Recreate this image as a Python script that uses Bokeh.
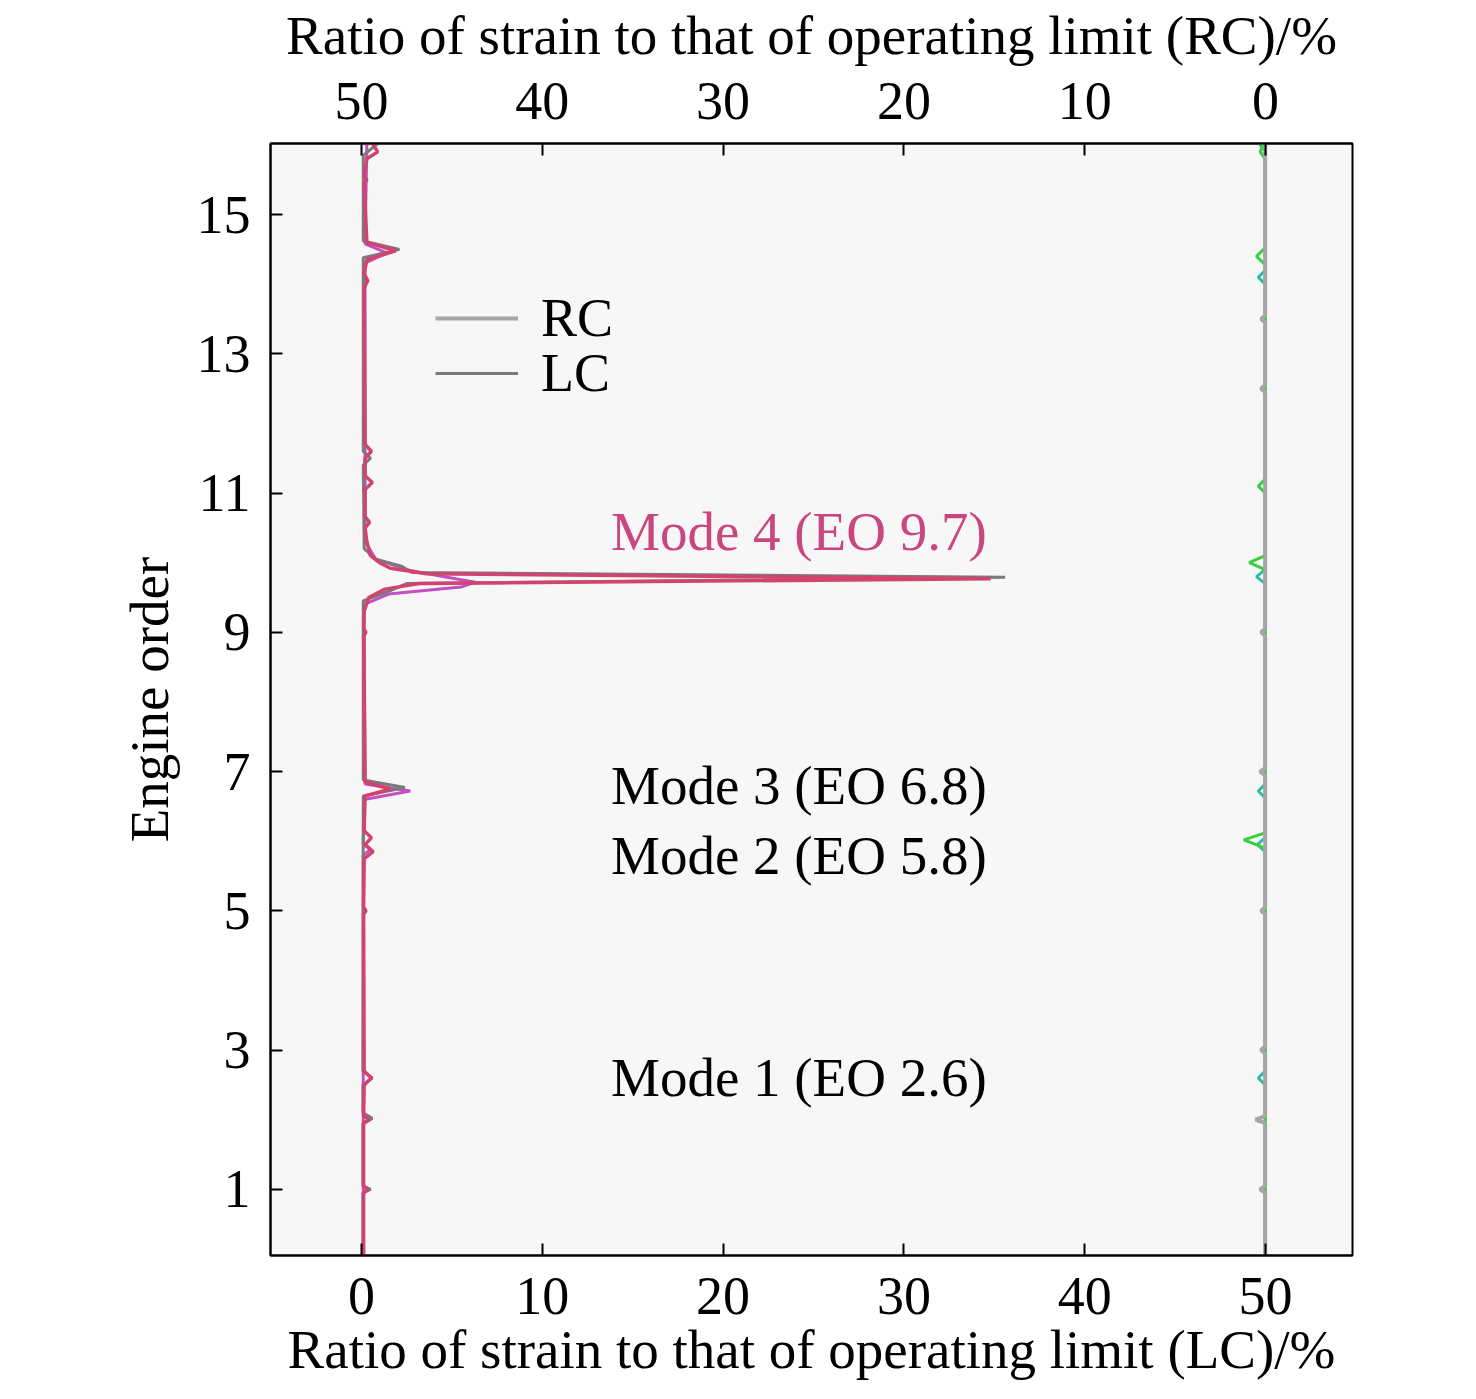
from bokeh.plotting import figure
from bokeh.models import Range1d, LinearAxis, FixedTicker, Legend, LegendItem, Label
from bokeh.embed import file_html
from bokeh.resources import INLINE

FONT = "Liberation Serif"

# ---------------- data ----------------
# LC: ratio of strain (%) vs engine order, left-hand curves
lc_pink_eo = [0.05, 0.95, 1.0, 1.05,
              1.95, 2.0, 2.05,
              2.5, 2.6, 2.7,
              4.95, 5.0, 5.05,
              5.75, 5.85, 5.95, 6.05, 6.15,
              6.65, 6.75, 6.85,
              8.95, 9.0, 9.05,
              9.3, 9.5, 9.62, 9.7, 9.77, 9.84, 9.92, 10.0, 10.1, 10.3,
              10.5, 10.58, 10.66,
              11.05, 11.15, 11.25,
              11.5, 11.6, 11.7,
              13.95, 14.05, 14.15,
              14.35, 14.48, 14.6,
              15.45, 15.5, 15.55,
              15.8, 15.9, 16.02]
lc_pink = [0.12, 0.12, 0.35, 0.12,
           0.12, 0.45, 0.12,
           0.15, 0.55, 0.15,
           0.12, 0.25, 0.12,
           0.15, 0.65, 0.2, 0.55, 0.15,
           0.2, 1.6, 0.2,
           0.12, 0.25, 0.12,
           0.15, 0.4, 1.3, 3.2, 34.8, 3.6, 1.6, 1.0, 0.5, 0.3,
           0.2, 0.45, 0.2,
           0.2, 0.6, 0.2,
           0.2, 0.55, 0.2,
           0.15, 0.35, 0.15,
           0.3, 1.9, 0.3,
           0.15, 0.3, 0.15,
           0.3, 0.9, 0.6]

lc_magenta_eo = [0.05, 5.8, 5.88, 5.96, 6.6, 6.72, 6.82,
                 9.4, 9.55, 9.65, 9.72, 9.8, 9.9, 10.05, 10.3,
                 14.3, 14.45, 14.58, 16.02]
lc_magenta = [0.1, 0.1, 0.5, 0.1, 0.15, 2.7, 0.2,
              0.15, 1.5, 5.5, 6.3, 4.5, 2.5, 0.8, 0.2,
              0.2, 1.4, 0.2, 0.3]

lc_gray_eo = [0.05, 0.95, 1.0, 1.05, 1.95, 2.02, 2.1, 2.5, 2.6, 2.7,
              6.65, 6.77, 6.88,
              9.45, 9.6, 9.7, 9.79, 9.86, 9.95, 10.05, 10.2,
              11.4, 11.5, 11.6, 14.38, 14.5, 14.62, 15.85, 16.02]
lc_gray = [0.08, 0.08, 0.5, 0.08, 0.08, 0.6, 0.08, 0.08, 0.6, 0.08,
           0.1, 2.4, 0.1,
           0.1, 1.6, 2.5, 35.6, 2.8, 2.2, 0.8, 0.15,
           0.1, 0.5, 0.1, 0.1, 2.1, 0.1, 0.1, 0.9]

# RC: right-hand curves (top axis, reversed)
rc_gray_eo = [0.05, 0.95, 1.0, 1.05, 1.95, 2.0, 2.05, 2.95, 3.0, 3.05,
              4.95, 5.0, 5.05, 6.95, 7.0, 7.05, 8.95, 9.0, 9.05,
              12.45, 12.5, 12.55, 13.45, 13.5, 13.55, 16.02]
rc_gray = [0.02, 0.02, 0.3, 0.02, 0.02, 0.55, 0.02, 0.02, 0.25, 0.02,
           0.02, 0.25, 0.02, 0.02, 0.3, 0.02, 0.02, 0.25, 0.02,
           0.02, 0.25, 0.02, 0.02, 0.25, 0.02, 0.02]

rc_green_eo = [0.05, 5.9, 6.02, 6.12, 9.9, 10.0, 10.1, 11.0, 11.1, 11.2,
               14.28, 14.4, 14.52, 15.8, 15.9, 16.02]
rc_green = [0.02, 0.02, 1.2, 0.02, 0.02, 0.9, 0.02, 0.02, 0.4, 0.02,
            0.02, 0.5, 0.02, 0.02, 0.3, 0.1]

rc_teal_eo = [0.05, 2.5, 2.6, 2.7, 5.85, 5.95, 6.05, 6.62, 6.72, 6.82,
              9.7, 9.8, 9.9, 14.0, 14.1, 14.2, 15.9, 16.02]
rc_teal = [0.02, 0.02, 0.4, 0.02, 0.02, 0.45, 0.02, 0.02, 0.4, 0.02,
           0.02, 0.5, 0.02, 0.02, 0.4, 0.02, 0.02, 0.35]

# tick values
y_ticks = [1, 3, 5, 7, 9, 11, 13, 15]
x_ticks = [0, 10, 20, 30, 40, 50]

# mode annotations
mode_labels = ["Mode 1 (EO 2.6)", "Mode 2 (EO 5.8)", "Mode 3 (EO 6.8)", "Mode 4 (EO 9.7)"]
mode_label_eo = [2.6, 5.8, 6.8, 10.45]
mode_label_colors = ["black", "black", "black", "#c9467f"]
mode_label_x = 13.8

# ---------------- figure ----------------
p = figure(width=1470, height=1399, output_backend="svg", toolbar_location=None,
           x_range=Range1d(-5.03, 54.81), y_range=Range1d(0.05, 16.02),
           x_axis_location=None,
           min_border_left=270, min_border_right=118,
           min_border_top=143, min_border_bottom=144)
p.extra_x_ranges = {"rc": Range1d(55.03, -4.81)}

p.background_fill_color = "#f7f7f7"
p.border_fill_color = "white"
p.outline_line_color = "black"
p.outline_line_width = 2
p.xgrid.visible = False
p.ygrid.visible = False

bottom_axis = LinearAxis()
top_axis = LinearAxis(x_range_name="rc")
p.add_layout(bottom_axis, "below")
p.add_layout(top_axis, "above")
left_axis = p.yaxis[0]

bottom_axis.axis_label = "Ratio of strain to that of operating limit (LC)/%"
top_axis.axis_label = "Ratio of strain to that of operating limit (RC)/%"
left_axis.axis_label = "Engine order"

bottom_axis.ticker = FixedTicker(ticks=x_ticks)
top_axis.ticker = FixedTicker(ticks=x_ticks)
left_axis.ticker = FixedTicker(ticks=y_ticks)

for ax in [bottom_axis, top_axis, left_axis]:
    ax.major_tick_in = 12
    ax.major_tick_out = 0
    ax.minor_tick_in = 0
    ax.minor_tick_out = 0
    ax.axis_line_width = 2
    ax.major_tick_line_width = 2
    ax.major_label_text_font = FONT
    ax.major_label_text_font_size = "54px"
    ax.major_label_text_color = "black"
    ax.axis_label_text_font = FONT
    ax.axis_label_text_font_size = "55px"
    ax.axis_label_text_font_style = "normal"
    ax.axis_label_text_color = "black"

bottom_axis.major_label_standoff = 22
bottom_axis.axis_label_standoff = 2
top_axis.major_label_standoff = 25
top_axis.axis_label_standoff = 14
left_axis.major_label_standoff = 20
left_axis.axis_label_standoff = 14
left_axis.major_label_orientation = "horizontal"

# ---------------- lines ----------------
p.line(rc_teal, rc_teal_eo, x_range_name="rc", line_color="#2bbf9f", line_width=3)
p.line(rc_green, rc_green_eo, x_range_name="rc", line_color="#3ccf3c", line_width=3)
r_rc = p.line(rc_gray, rc_gray_eo, x_range_name="rc", line_color="#a6a6a6", line_width=4)

p.line(lc_magenta, lc_magenta_eo, line_color="#c24fc4", line_width=3)
r_lc = p.line(lc_gray, lc_gray_eo, line_color="#7a7a7a", line_width=3)
p.line(lc_pink, lc_pink_eo, line_color="#d2436f", line_width=3.5)

legend_style = dict(padding=0, margin=0, spacing=0,
                    glyph_width=83, glyph_height=48, label_height=48,
                    label_standoff=23, label_text_font=FONT,
                    label_text_color="black",
                    label_text_font_size="54px", border_line_color=None,
                    background_fill_alpha=0)
legend_rc = Legend(items=[LegendItem(label="RC", renderers=[r_rc])],
                   location=(165, 906), **legend_style)
legend_lc = Legend(items=[LegendItem(label="LC", renderers=[r_lc])],
                   location=(165, 851), **legend_style)
p.add_layout(legend_rc, "center")
p.add_layout(legend_lc, "center")

for txt, eo, col in zip(mode_labels, mode_label_eo, mode_label_colors):
    p.add_layout(Label(x=mode_label_x, y=eo, text=txt, text_font=FONT,
                       text_font_size="55px", text_color=col,
                       text_baseline="middle", text_align="left"))

open("out.html", "w").write(file_html(p, INLINE))
